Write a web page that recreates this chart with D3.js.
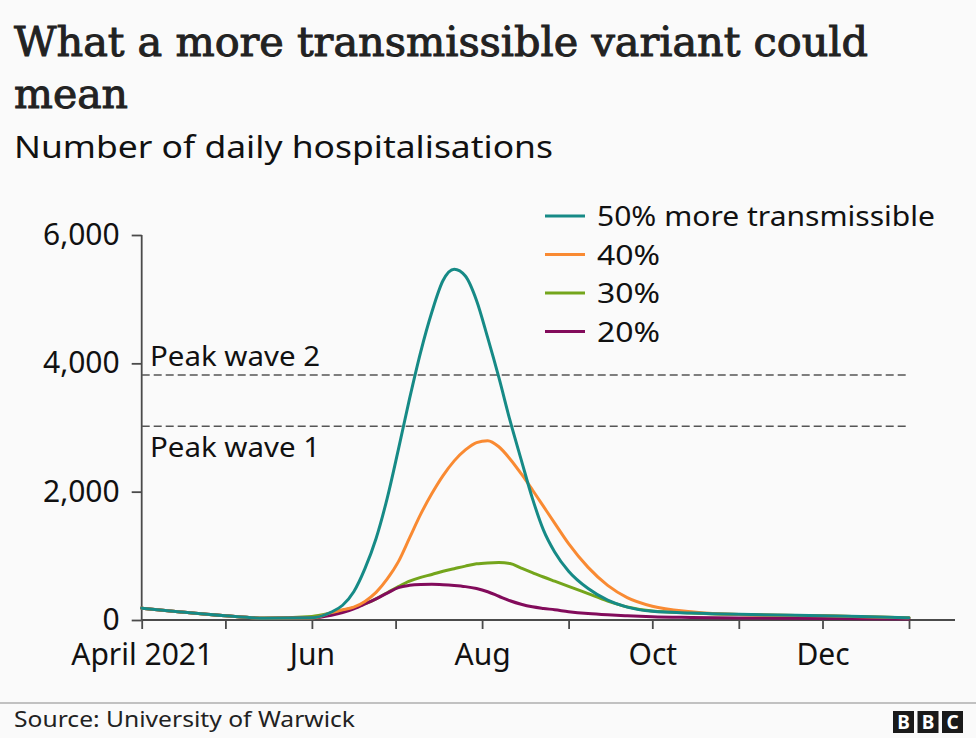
<!DOCTYPE html>
<html>
<head>
<meta charset="utf-8">
<script src="https://cdn.jsdelivr.net/npm/d3@7"></script>
<style>
  html, body { margin: 0; padding: 0; background: #fafafa; }
  svg { display: block; }
  .sans { font-family: "Noto Sans", "Open Sans", sans-serif; }
</style>
</head>
<body>
<svg id="chart" width="976" height="738"></svg>
<script>
// ---------------- DATA ----------------
const dates = ["2021-04-01","2021-04-15","2021-05-01","2021-05-15","2021-06-01","2021-06-08","2021-06-12","2021-06-16","2021-06-20","2021-06-24","2021-06-28","2021-07-02","2021-07-06","2021-07-10","2021-07-14","2021-07-18","2021-07-22","2021-07-26","2021-07-30","2021-08-03","2021-08-07","2021-08-11","2021-08-15","2021-08-19","2021-08-23","2021-08-27","2021-09-01","2021-09-08","2021-09-15","2021-09-22","2021-10-01","2021-10-15","2021-11-01","2021-11-15","2021-12-01","2021-12-15","2022-01-01"];

const pct50 = [185,125,65,28,35,125,230,440,800,1270,1900,2660,3450,4180,4800,5290,5465,5360,4980,4400,3780,3110,2500,1900,1400,1060,760,490,310,200,135,108,88,78,68,55,36];
const pct40 = [185,125,65,28,30,115,160,200,290,430,640,910,1280,1650,1970,2250,2480,2650,2765,2795,2700,2510,2280,2030,1770,1510,1190,820,540,350,215,130,85,75,65,52,35];
const pct30 = [185,125,65,30,55,110,150,190,250,330,425,520,605,665,710,760,800,840,875,890,895,880,810,740,670,605,525,410,295,205,140,110,85,75,65,52,35];
const pct20 = [185,125,65,28,35,75,115,175,250,330,420,505,540,553,556,550,538,520,490,440,370,300,245,205,180,160,130,100,80,65,50,40,32,28,24,20,16];

const seriesNames = ["50% more transmissible", "40%", "30%", "20%"];
const seriesColors = ["#168a86", "#f98a32", "#74a51c", "#820b5b"];

const yTicks = [0, 2000, 4000, 6000];
const xTickDates = ["2021-04-01","2021-05-01","2021-06-01","2021-07-01","2021-08-01","2021-09-01","2021-10-01","2021-11-01","2021-12-01","2022-01-01"];
const xTickLabels = ["April 2021","","Jun","","Aug","","Oct","","Dec",""];

const peakLevels = [3820, 3020];
const peakLabels = ["Peak wave 2", "Peak wave 1"];

const titleLines = ["What a more transmissible variant could", "mean"];
const subtitle = "Number of daily hospitalisations";
const source = "Source: University of Warwick";

// ---------------- CHART ----------------
const parse = d3.utcParse("%Y-%m-%d");
const svg = d3.select("#chart");
svg.append("rect").attr("width", 976).attr("height", 738).attr("fill", "#fafafa");

const x = d3.scaleUtc()
  .domain([parse("2021-04-01"), parse("2022-01-01")])
  .range([141.7, 909]);
const y = d3.scaleLinear().domain([0, 6000]).range([620, 235]);

function fit(sel, w) {
  const n = sel.node();
  const l = n.getComputedTextLength();
  if (Math.abs(l - w) > 1.5) sel.attr("textLength", w).attr("lengthAdjust", "spacingAndGlyphs");
  return sel;
}

// Title
const titleW = [854, 114];
titleLines.forEach((t, i) => {
  const s = svg.append("text")
    .attr("x", 14).attr("y", 56 + i * 52)
    .attr("font-family", "'DejaVu Serif', 'Liberation Serif', serif")
    .attr("font-stretch", "condensed")
    .attr("font-weight", "normal")
    .attr("font-size", 41)
    .attr("fill", "#222")
    .attr("stroke", "#222")
    .attr("stroke-width", 0.9)
    .text(t);
  fit(s, titleW[i]);
});

fit(svg.append("text").attr("class", "sans")
  .attr("x", 14).attr("y", 158)
  .attr("font-size", 30).attr("fill", "#111")
  .text(subtitle), 539);

// Y axis
const yAxis = svg.append("g").attr("transform", "translate(141.7,0)")
  .call(d3.axisLeft(y).tickValues(yTicks).tickSize(10).tickPadding(12)
    .tickFormat(d3.format(",")));
yAxis.select(".domain").attr("stroke", "#4a4a4a").attr("stroke-width", 1.8)
  .attr("d", "M0," + y(6000) + "V" + y(0));
yAxis.selectAll(".tick line").attr("stroke", "#4a4a4a").attr("stroke-width", 1.8);
yAxis.selectAll(".tick text")
  .attr("font-size", 30).attr("fill", "#111")
  .attr("font-family", "'Noto Sans', sans-serif");

// X axis
const xAxis = svg.append("g").attr("transform", "translate(0,620)")
  .call(d3.axisBottom(x).tickValues(xTickDates.map(parse)).tickSize(9).tickPadding(15)
    .tickFormat((d, i) => xTickLabels[i]));
xAxis.select(".domain").attr("stroke", "#4a4a4a").attr("stroke-width", 1.8)
  .attr("d", "M141.7,0H955");
xAxis.selectAll(".tick line").attr("stroke", "#4a4a4a").attr("stroke-width", 1.8);
xAxis.selectAll(".tick text")
  .attr("font-size", 30).attr("fill", "#111")
  .attr("font-family", "'Noto Sans', sans-serif");

// Peak reference lines
peakLevels.forEach((v, i) => {
  svg.append("line")
    .attr("x1", x.range()[0]).attr("x2", x.range()[1])
    .attr("y1", y(v)).attr("y2", y(v))
    .attr("stroke", "#555").attr("stroke-width", 1.5)
    .attr("stroke-dasharray", "8,4");
});
fit(svg.append("text").attr("class", "sans")
  .attr("x", 150).attr("y", y(peakLevels[0]) - 9)
  .attr("font-size", 28).attr("fill", "#111").text(peakLabels[0]), 170);
fit(svg.append("text").attr("class", "sans")
  .attr("x", 150).attr("y", y(peakLevels[1]) + 31)
  .attr("font-size", 28).attr("fill", "#111").text(peakLabels[1]), 170);

// Lines
const allSeries = [pct50, pct40, pct30, pct20];
const line = d3.line()
  .x((d, i) => x(parse(dates[i])))
  .y(d => y(d))
  .curve(d3.curveMonotoneX);
const drawOrder = [2, 3, 1, 0];
drawOrder.forEach(k => {
  svg.append("path")
    .datum(allSeries[k])
    .attr("d", line)
    .attr("fill", "none")
    .attr("stroke", seriesColors[k])
    .attr("stroke-width", 3)
    .attr("stroke-linejoin", "round")
    .attr("stroke-linecap", "round");
});

// Legend
const legendW = [338, 63, 63, 63];
seriesNames.forEach((name, i) => {
  const ly = 216 + i * 38.5;
  svg.append("line").attr("x1", 545).attr("x2", 585).attr("y1", ly).attr("y2", ly)
    .attr("stroke", seriesColors[i]).attr("stroke-width", 3);
  fit(svg.append("text").attr("class", "sans")
    .attr("x", 597).attr("y", ly + 10)
    .attr("font-size", 27).attr("fill", "#111").text(name), legendW[i]);
});

// Footer
svg.append("line").attr("x1", 0).attr("x2", 976).attr("y1", 703).attr("y2", 703)
  .attr("stroke", "#888").attr("stroke-width", 1.2);
fit(svg.append("text").attr("class", "sans")
  .attr("x", 14).attr("y", 727)
  .attr("font-size", 22).attr("fill", "#222").text(source), 341);

const logo = svg.append("g");
["B", "B", "C"].forEach((ch, i) => {
  const bx = 893 + i * 24.5;
  logo.append("rect").attr("x", bx).attr("y", 711).attr("width", 21).attr("height", 22)
    .attr("fill", "#1a1a1a");
  logo.append("text").attr("x", bx + 10.5).attr("y", 729)
    .attr("text-anchor", "middle")
    .attr("font-family", "'Noto Sans', sans-serif").attr("font-weight", "bold")
    .attr("font-size", 19).attr("fill", "#fff").text(ch);
});
</script>
</body>
</html>
